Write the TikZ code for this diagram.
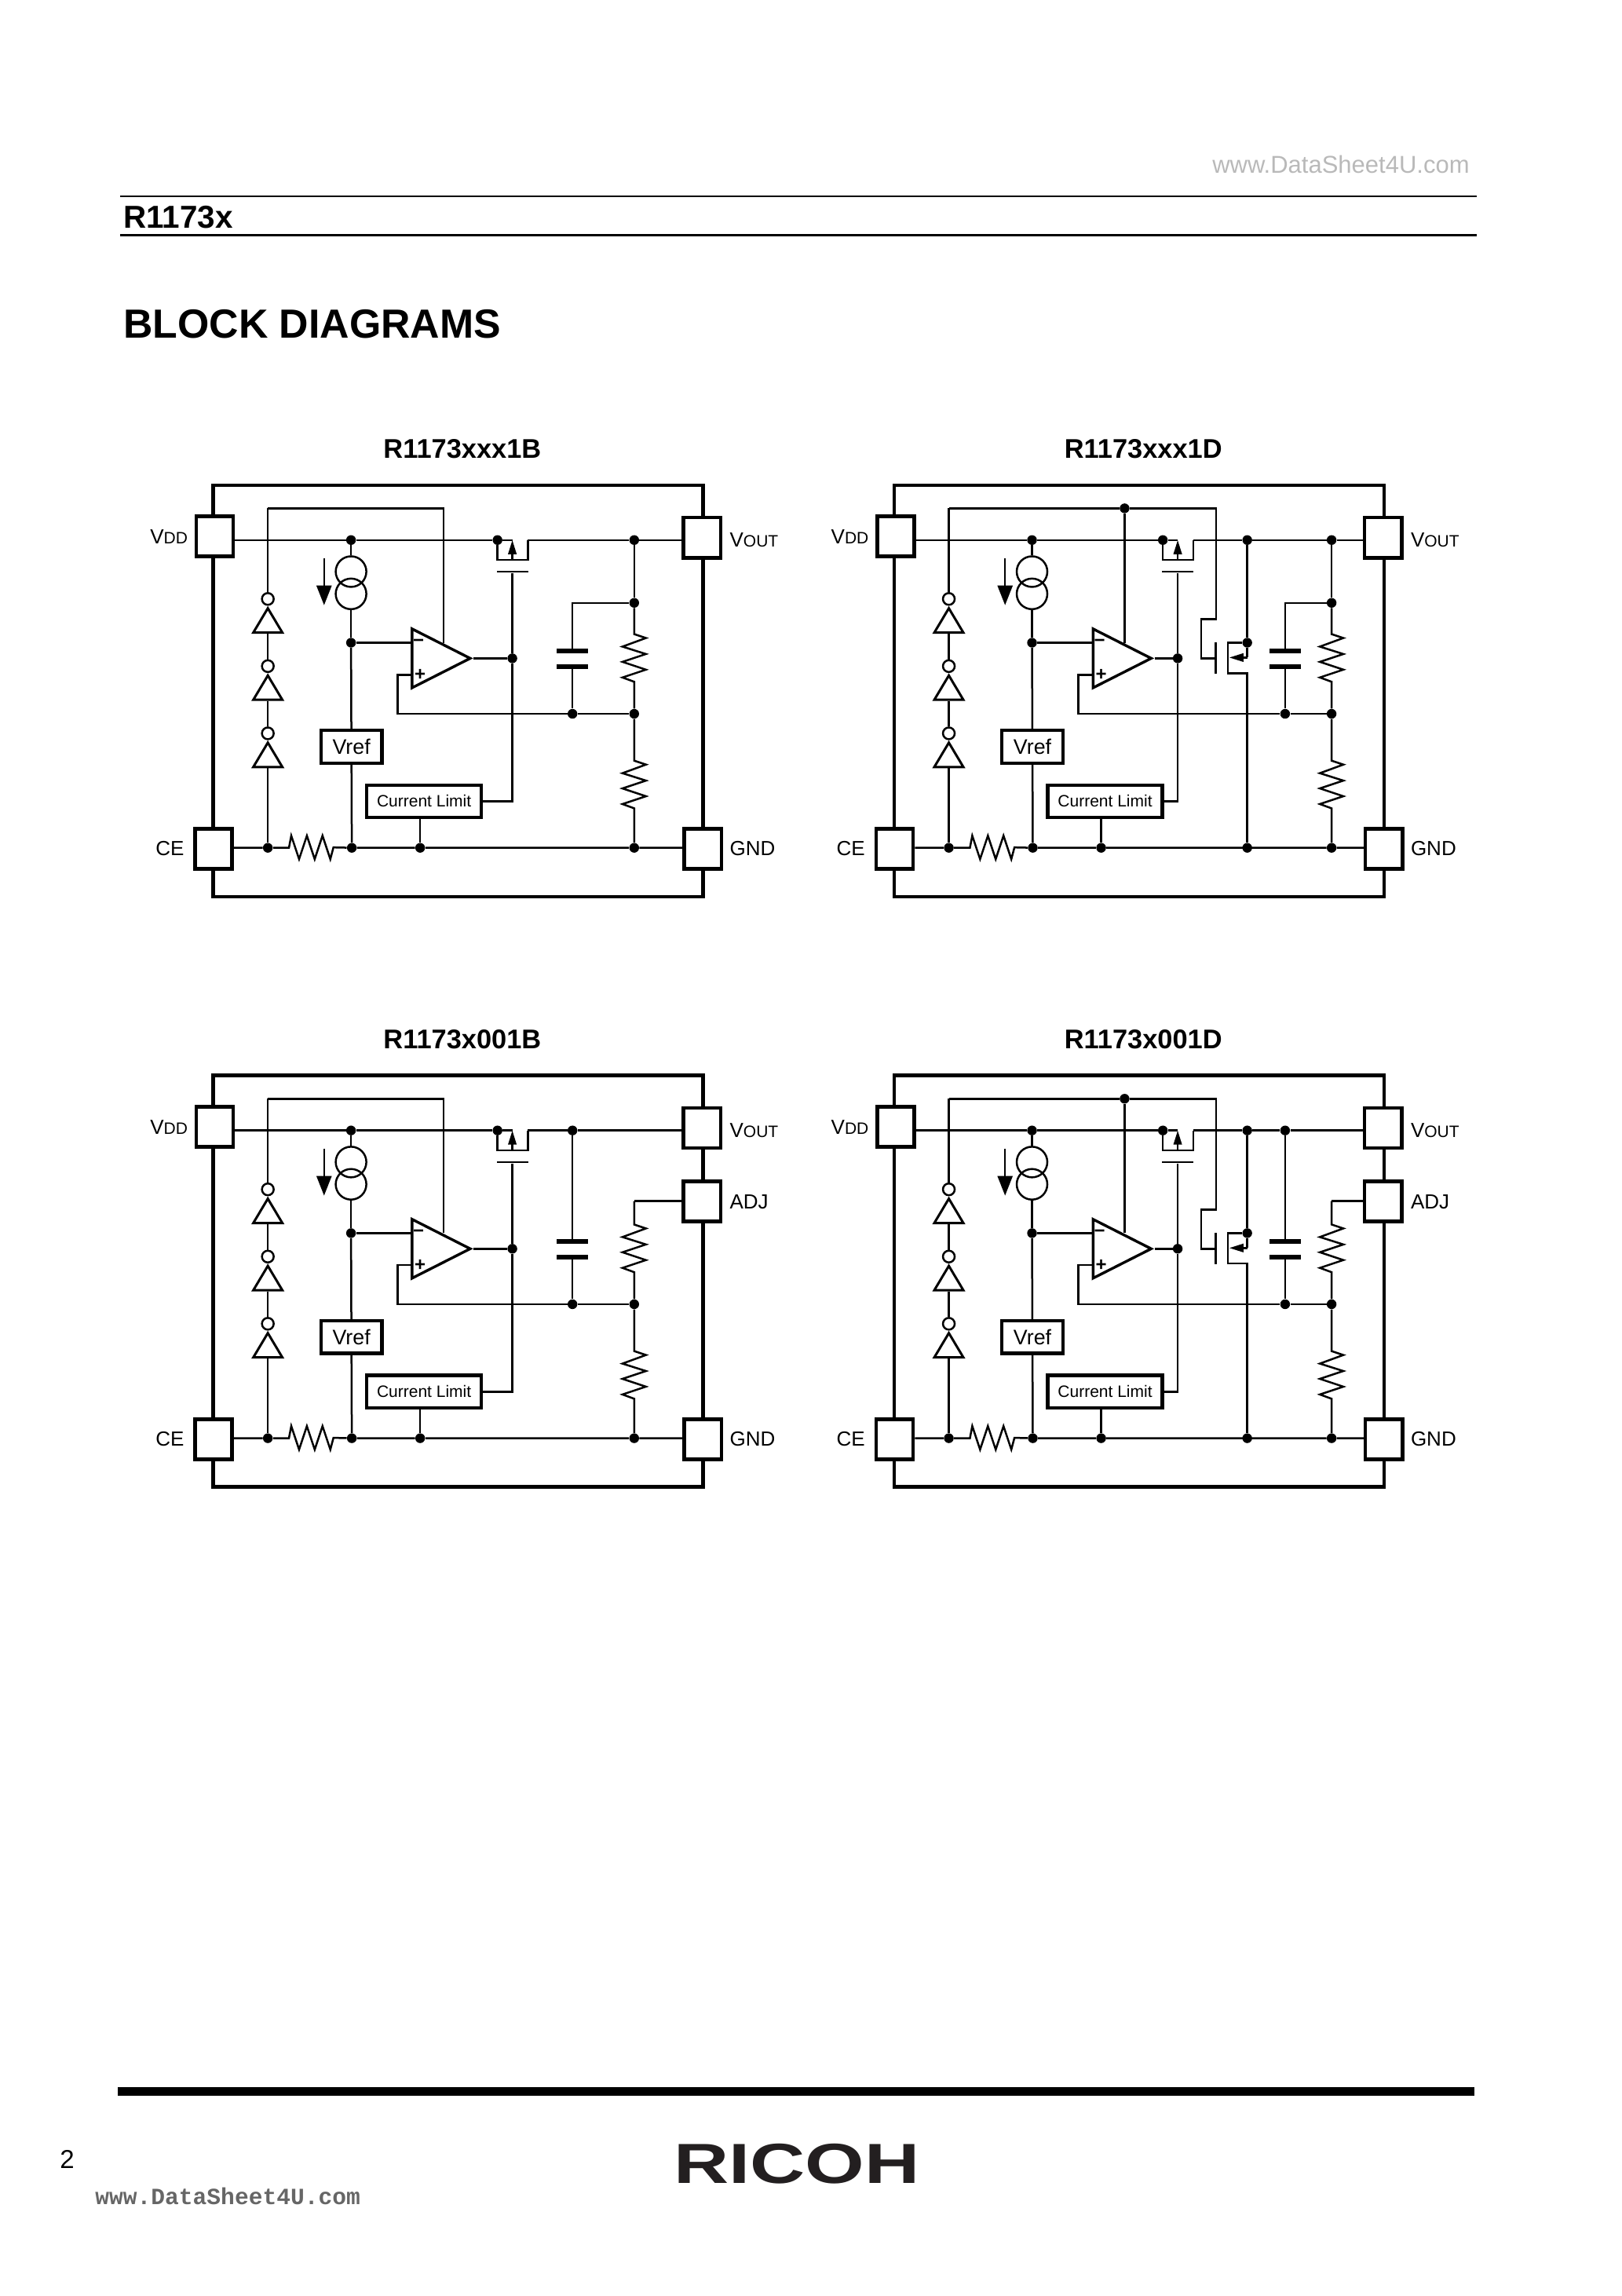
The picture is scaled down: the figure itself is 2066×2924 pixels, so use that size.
\documentclass[tikz,border=0pt]{standalone}
\usepackage{fontspec}
\setmainfont{Liberation Sans}
\newfontfamily\markfont{Liberation Mono}
\usetikzlibrary{shapes.geometric, arrows.meta}
\definecolor{logoblack}{HTML}{231F20}
\tikzstyle{wire} = [line width=1.25pt, line join=miter]
\tikzstyle{dot} = [circle, fill=black, inner sep=0pt, minimum size=6.2pt]
\tikzstyle{chipbox} = [rectangle, draw=black, line width=2.15pt, minimum width=312pt, minimum height=262pt]
\tikzstyle{pad} = [rectangle, draw=black, fill=white, line width=2.3pt, minimum width=23.6pt, minimum height=25.6pt]
\tikzstyle{pinlabel} = [anchor=base west, inner sep=0pt, font=\fontsize{13}{13}\selectfont]
\tikzstyle{heading} = [anchor=base, inner sep=0pt, font=\fontsize{17.2}{17.2}\selectfont\bfseries]
\tikzstyle{vrefbox} = [rectangle, draw=black, line width=2.1pt, minimum width=38.8pt, minimum height=20.8pt, inner sep=0pt, font=\fontsize{13.4}{13.4}\selectfont]
\tikzstyle{climbox} = [rectangle, draw=black, line width=2.1pt, minimum width=73pt, minimum height=20.8pt, inner sep=0pt, font=\fontsize{10.5}{10.5}\selectfont]
\tikzstyle{srccirc} = [circle, draw=black, line width=1.25pt, minimum size=19.5pt, inner sep=0pt]
\tikzstyle{bubble} = [circle, draw=black, fill=white, line width=1.25pt, minimum size=7.5pt, inner sep=0pt]
\tikzstyle{inverter} = [isosceles triangle, shape border rotate=90, isosceles triangle stretches, draw=black, line width=1.5pt, minimum width=18.5pt, minimum height=15.5pt, inner sep=0pt, anchor=apex]
\tikzstyle{opamp} = [isosceles triangle, isosceles triangle stretches, draw=black, line width=1.7pt, minimum width=37.5pt, minimum height=37pt, inner sep=0pt, anchor=apex]
\tikzstyle{capplate} = [rectangle, fill=black, minimum width=20pt, minimum height=3pt, inner sep=0pt]
\tikzstyle{gatebar} = [rectangle, fill=black, minimum width=20pt, minimum height=1.3pt, inner sep=0pt]
\tikzstyle{ngatebar} = [rectangle, fill=black, minimum width=1.4pt, minimum height=20pt, inner sep=0pt]
\tikzstyle{srcarrow} = [wire, -{Triangle[length=12.5pt,width=9.5pt]}]
\tikzstyle{fetarrow} = [wire, -{Triangle[length=9pt,width=5.2pt]}]
\tikzstyle{sign} = [inner sep=0pt, font=\fontsize{12}{12}\selectfont\bfseries]
\tikzstyle{block} = [x=0.4975pt, y=-0.4975pt]

\newcommand{\smallpin}[1]{{\fontsize{10.5}{10.5}\selectfont #1}}
\newcommand{\vres}[4]{\draw [wire] (#1) -- (#3,#4) -- ++(15,5) -- ++(-30,11) -- ++(30,9.5) -- ++(-30,10) -- ++(30,10) -- ++(-30,10) -- ++(15,5.5) -- (#2);}

% #1 pmos x, #2 divider x, #3 capacitor x, #4 title
\newcommand{\blockcommon}[4]{
\node (title) [heading] at (319,-34) {#4};
\node (chip) [chipbox] at (313.5,263.5) {};
\node (vdd) [pad] at (2,66) {};
\node (vout) [pad] at (626,67.5) {};
\node (ce) [pad] at (0.5,466) {};
\node (gnd) [pad] at (627,466) {};
\node (lvdd) [pinlabel] at (-81,75) {V\smallpin{DD}};
\node (lvout) [pinlabel] at (661,79) {V\smallpin{OUT}};
\node (lce) [pinlabel] at (-74,474) {CE};
\node (lgnd) [pinlabel] at (661,474) {GND};

\node (dvdd) [dot] at (176.5,70.6) {};
\node (dsrc) [dot] at (#1-19,70.6) {};
\node (dinv) [dot] at (176.5,202) {};
\node (dout) [dot] at (#1,222) {};
\node (dfb) [dot] at (#2,293) {};
\node (dcap) [dot] at (#3,293) {};
\node (dce) [dot] at (70,464.5) {};
\node (dref) [dot] at (177.5,464.5) {};
\node (dlim) [dot] at (265,464.5) {};
\node (dgnd) [dot] at (#2,464.5) {};

\node (cs1) [srccirc] at (176.5,111) {};
\node (cs2) [srccirc] at (176.5,139.5) {};
\coordinate (arrtop) at (142,94);
\coordinate (arrbot) at (142,154);
\draw [srcarrow] (arrtop) -- (arrbot);

\node (vref) [vrefbox] at (177,335) {Vref};
\node (clim) [climbox] at (270,405) {Current Limit};
\node (oa) [opamp] at (333.5,222) {};
\node (oam) [sign] at (263,202) {\textminus};
\node (oap) [sign] at (265,243) {+};
\coordinate (oain) at (255,202);
\coordinate (oaip) at (255,243);
\coordinate (oaloop) at (295,202);
\coordinate (fbl) at (236,293);

\coordinate (looptl) at (70,30);
\node (bub1) [bubble] at (70,146) {};
\node (inv1) [inverter] at (70,154) {};
\node (bub2) [bubble] at (70,232) {};
\node (inv2) [inverter] at (70,240) {};
\node (bub3) [bubble] at (70,318) {};
\node (inv3) [inverter] at (70,326) {};

\coordinate (ptip) at (#1,70.6);
\coordinate (pmid) at (#1,96);
\coordinate (pchl) at (#1-19,96);
\coordinate (pchr) at (#1+20,96);
\coordinate (pdrn) at (#1+20,70.6);
\node (pgate) [gatebar] at (#1,111) {};
\node (cpa) [capplate] at (#3,213) {};
\node (cpb) [capplate] at (#3,232.6) {};

\draw [wire] (vdd.east |- dvdd) -- (dvdd) -- (dsrc) -- (ptip);
\draw [wire] (dsrc) -- (pchl) -- (pchr) -- (pdrn);
\draw [fetarrow] (pmid) -- (ptip);
\draw [wire] (dvdd) -- (cs1);
\draw [wire] (cs2) -- (dinv);
\draw [wire] (dinv) -- (oain);
\draw [wire] (dinv) -- (vref);
\draw [wire] (vref) -- (dref);
\draw [wire] (clim.south -| dlim) -- (dlim);
\draw [wire] (oa.apex) -- (dout);
\draw [wire] (pgate) -- (dout) |- (clim.east);
\draw [wire] (oaip) -| (fbl) -- (dcap) -- (dfb);
\draw [wire] (cpb) -- (dcap);
\draw [wire] (looptl) -- (bub1);
\draw [wire] (inv1.south) -- (bub2);
\draw [wire] (inv2.south) -- (bub3);
\draw [wire] (inv3.south) -- (dce);
\draw [wire] (ce.east |- dce) -- (dce) -- (97,464.5) -- ++(3,-15.5) -- ++(10,30) -- ++(10,-30) -- ++(10,30) -- ++(10,-30) -- ++(10,30) -- ++(4,-15) -- (dref) -- (dlim) -- (dgnd) -- (gnd.west |- dgnd);
\vres{dfb}{dgnd}{#2}{353}
}

% discharge transistor of the D versions
\newcommand{\dischargepart}{
\node (dloop) [dot] at (295,30) {};
\node (dn) [dot] at (452,202) {};
\node (dg) [dot] at (452,464.5) {};
\coordinate (loopr) at (412,30);
\coordinate (bendr) at (412,172);
\coordinate (bendl) at (393,172);
\node (ngate) [ngatebar] at (412,222) {};
\coordinate (ncht) at (427,202);
\coordinate (nchb) at (427,241);
\coordinate (nbot) at (452,241);
\coordinate (narr) at (452,221);
\coordinate (nchm) at (429,221);
\draw [wire] (looptl) -- (dloop) -- (loopr) -- (bendr) -- (bendl) |- (ngate);
\draw [wire] (dloop) -- (oaloop);
\draw [wire] (dn) -- (ncht) -- (nchb) -- (nbot) -- (dg);
\draw [wire] (dn) -- (narr);
\draw [fetarrow] (narr) -- (nchm);
}

\begin{document}
\begin{tikzpicture}[x=0.5pt, y=-0.5pt]
\useasboundingbox (0,0) rectangle (2066,2924);

\node (wmtop) [anchor=base east, inner sep=0pt, text=gray!55, font=\fontsize{15.5}{15.5}\selectfont] at (1872,220) {www.DataSheet4U.com};
\node (partno) [anchor=base west, inner sep=0pt, font=\fontsize{20.2}{20.2}\selectfont\bfseries] at (157,290) {R1173x};
\node (hl1) [rectangle, fill=black, minimum width=864pt, minimum height=1.35pt, inner sep=0pt] at (1017,250) {};
\node (hl2) [rectangle, fill=black, minimum width=864pt, minimum height=1.35pt, inner sep=0pt] at (1017,299.5) {};
\node (pagetitle) [anchor=base west, inner sep=0pt, font=\fontsize{25.9}{25.9}\selectfont\bfseries] at (157,430) {BLOCK DIAGRAMS};

% R1173xxx1B
\begin{scope}[shift={(271.5,617.5)}, block, name prefix=a-]
\blockcommon{383}{539}{460}{R1173xxx1B}
\node (dv) [dot] at (539,70.6) {};
\node (dc) [dot] at (539,151) {};
\draw [wire] (pdrn) -- (dv) -- (vout.west |- dv);
\draw [wire] (looptl) -| (oaloop);
\draw [wire] (dc) -| (cpa);
\draw [wire] (dv) -- (dc);
\vres{dc}{dfb}{539}{191}
\end{scope}

% R1173xxx1D
\begin{scope}[shift={(1138.9,617.5)}, block, name prefix=b-]
\blockcommon{363}{560}{500.5}{R1173xxx1D}
\dischargepart
\node (dnv) [dot] at (452,70.6) {};
\node (dv) [dot] at (560,70.6) {};
\node (dc) [dot] at (560,151) {};
\draw [wire] (pdrn) -- (dnv) -- (dv) -- (vout.west |- dv);
\draw [wire] (dnv) -- (dn);
\draw [wire] (dc) -| (cpa);
\draw [wire] (dv) -- (dc);
\vres{dc}{dfb}{560}{191}
\end{scope}

% R1173x001B
\begin{scope}[shift={(271.5,1369.4)}, block, name prefix=c-]
\blockcommon{383}{539}{460}{R1173x001B}
\node (adj) [pad] at (626,161.5) {};
\node (ladj) [pinlabel] at (661,171) {ADJ};
\node (dct) [dot] at (460,70.6) {};
\coordinate (adjc) at (539,161);
\draw [wire] (pdrn) -- (dct) -- (vout.west |- dct);
\draw [wire] (looptl) -| (oaloop);
\draw [wire] (dct) -- (cpa);
\draw [wire] (adj.west |- adjc) -- (adjc);
\vres{adjc}{dfb}{539}{191}
\end{scope}

% R1173x001D
\begin{scope}[shift={(1138.9,1369.4)}, block, name prefix=d-]
\blockcommon{363}{560}{500.5}{R1173x001D}
\dischargepart
\node (adj) [pad] at (626,161.5) {};
\node (ladj) [pinlabel] at (661,171) {ADJ};
\node (dnv) [dot] at (452,70.6) {};
\node (dct) [dot] at (500.5,70.6) {};
\coordinate (adjc) at (560,161);
\draw [wire] (pdrn) -- (dnv) -- (dct) -- (vout.west |- dct);
\draw [wire] (dnv) -- (dn);
\draw [wire] (dct) -- (cpa);
\draw [wire] (adj.west |- adjc) -- (adjc);
\vres{adjc}{dfb}{560}{191}
\end{scope}

\node (hl3) [rectangle, fill=black, minimum width=864pt, minimum height=5.5pt, inner sep=0pt] at (1014,2663.5) {};
\node (pageno) [anchor=base west, inner sep=0pt, font=\fontsize{16.5}{16.5}\selectfont] at (76,2761) {2};
\node (logo) [anchor=base, inner sep=0pt, xscale=1.35, text=logoblack, font=\fontsize{36}{36}\selectfont\bfseries] at (1015,2780) {RICOH};
\node (wmbot) [anchor=base west, inner sep=0pt, text=black!60, font=\markfont\fontsize{14.8}{14.8}\selectfont\bfseries] at (121,2807) {www.DataSheet4U.com};
\end{tikzpicture}
\end{document}
